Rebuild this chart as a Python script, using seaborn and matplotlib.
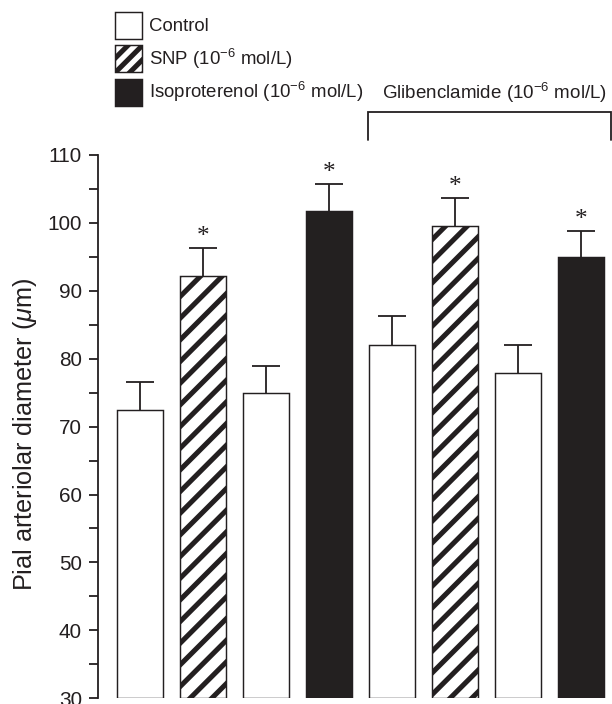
import numpy as np
import pandas as pd
import matplotlib
matplotlib.use("Agg")
import matplotlib.pyplot as plt
from matplotlib.patches import Patch
from matplotlib.ticker import MultipleLocator
import seaborn as sns

# ---------------- data ----------------
positions = [0, 1, 2, 3, 4, 5, 6, 7]
treatments = ["Control", "SNP", "Control", "Isoproterenol",
              "Control", "SNP", "Control", "Isoproterenol"]
diameters = [72.4, 92.2, 75.0, 101.7, 82.0, 99.6, 77.9, 95.0]
sem = [4.1, 4.1, 3.9, 4.0, 4.3, 4.1, 4.1, 3.8]
significant = [False, True, False, True, False, True, False, True]
yticks = [30, 40, 50, 60, 70, 80, 90, 100, 110]
legend_labels = ["Control", "SNP (10$^{-6}$ mol/L)", "Isoproterenol (10$^{-6}$ mol/L)"]
group_label = "Glibenclamide (10$^{-6}$ mol/L)"
ylabel = "Pial arteriolar diameter ($\\mu$m)"

# ---------------- style ----------------
sns.set_theme(style="ticks")
INK = "#231f20"
plt.rcParams.update({
    "font.family": ["Liberation Sans", "DejaVu Sans"],
    "mathtext.fontset": "custom",
    "mathtext.rm": "Liberation Sans",
    "mathtext.sf": "Liberation Sans",
    "mathtext.it": "Liberation Sans:italic",
    "mathtext.bf": "Liberation Sans:bold",
    "hatch.linewidth": 2.8,
    "hatch.color": INK,
    "text.color": INK,
})

DPI = 130
fig = plt.figure(figsize=(612 / DPI, 704 / DPI), dpi=DPI)
fig.patch.set_facecolor("white")
ax = fig.add_axes([0.1606, 0.0081, 0.8394, 0.7719])
ax.set_facecolor("white")

df = pd.DataFrame({"pos": positions, "treatment": treatments, "diameter": diameters})
palette = {"Control": "white", "SNP": "white", "Isoproterenol": INK}
sns.barplot(data=df, x="pos", y="diameter", hue="treatment", palette=palette,
            dodge=False, width=0.73, edgecolor=INK, linewidth=0.8,
            errorbar=None, legend=False, ax=ax)

base = yticks[0]
for p in ax.patches:
    idx = int(round(p.get_x() + p.get_width() / 2))
    top = p.get_y() + p.get_height()
    p.set_y(base)
    p.set_height(top - base)
    if treatments[idx] == "SNP":
        p.set_hatch("//")

cont = ax.errorbar(positions, diameters, yerr=[np.zeros(len(sem)), sem], fmt="none",
                   ecolor=INK, elinewidth=1.0, capsize=7.5, capthick=1.0, zorder=1)
for cl in cont[1]:
    if np.allclose(cl.get_ydata(), diameters):
        cl.set_visible(False)

for i, sig in enumerate(significant):
    if sig:
        ax.text(positions[i], diameters[i] + sem[i] + 0.75, "*", ha="center", va="baseline",
                fontsize=14, family="Liberation Serif", color=INK)

ax.set_xlim(-0.661, 7.484)
ax.set_ylim(yticks[0], yticks[-1])
ax.set_yticks(yticks)
ax.yaxis.set_minor_locator(MultipleLocator(5))
ax.set_xticks([])
ax.set_xlabel("")
ax.tick_params(axis="y", which="both", direction="out", length=5.2, width=1.0,
               color=INK, labelsize=11.5, labelcolor=INK, pad=4)
sns.despine(ax=ax, bottom=True)
ax.spines["left"].set_color(INK)
ax.spines["left"].set_linewidth(1.0)

ax.set_ylabel(ylabel, fontsize=14, color=INK)
ax.yaxis.set_label_coords(-0.1427, 0.486)
ax.yaxis.label.set_va("center")

# bracket for glibenclamide group
ax.plot([3.618, 3.618, 7.468, 7.468], [112.2, 116.3, 116.3, 112.2], color=INK,
        lw=1.0, clip_on=False, solid_joinstyle="miter")
ax.text(5.62, 119.1, group_label, ha="center", va="center", fontsize=10.4,
        color=INK, clip_on=False)

handles = [
    Patch(facecolor="white", edgecolor=INK, linewidth=0.8, label=legend_labels[0]),
    Patch(facecolor="white", edgecolor=INK, linewidth=0.8, hatch="///", label=legend_labels[1]),
    Patch(facecolor=INK, edgecolor=INK, linewidth=0.8, label=legend_labels[2]),
]
fig.legend(handles=handles, loc="upper left", bbox_to_anchor=(115 / 612, 1 - 12 / 704),
           frameon=False, fontsize=10.3, handlelength=1.45, handleheight=1.85,
           handletextpad=0.4, labelspacing=0.35, borderpad=0, borderaxespad=0)

fig.savefig("out.png", dpi=DPI, facecolor="white")
